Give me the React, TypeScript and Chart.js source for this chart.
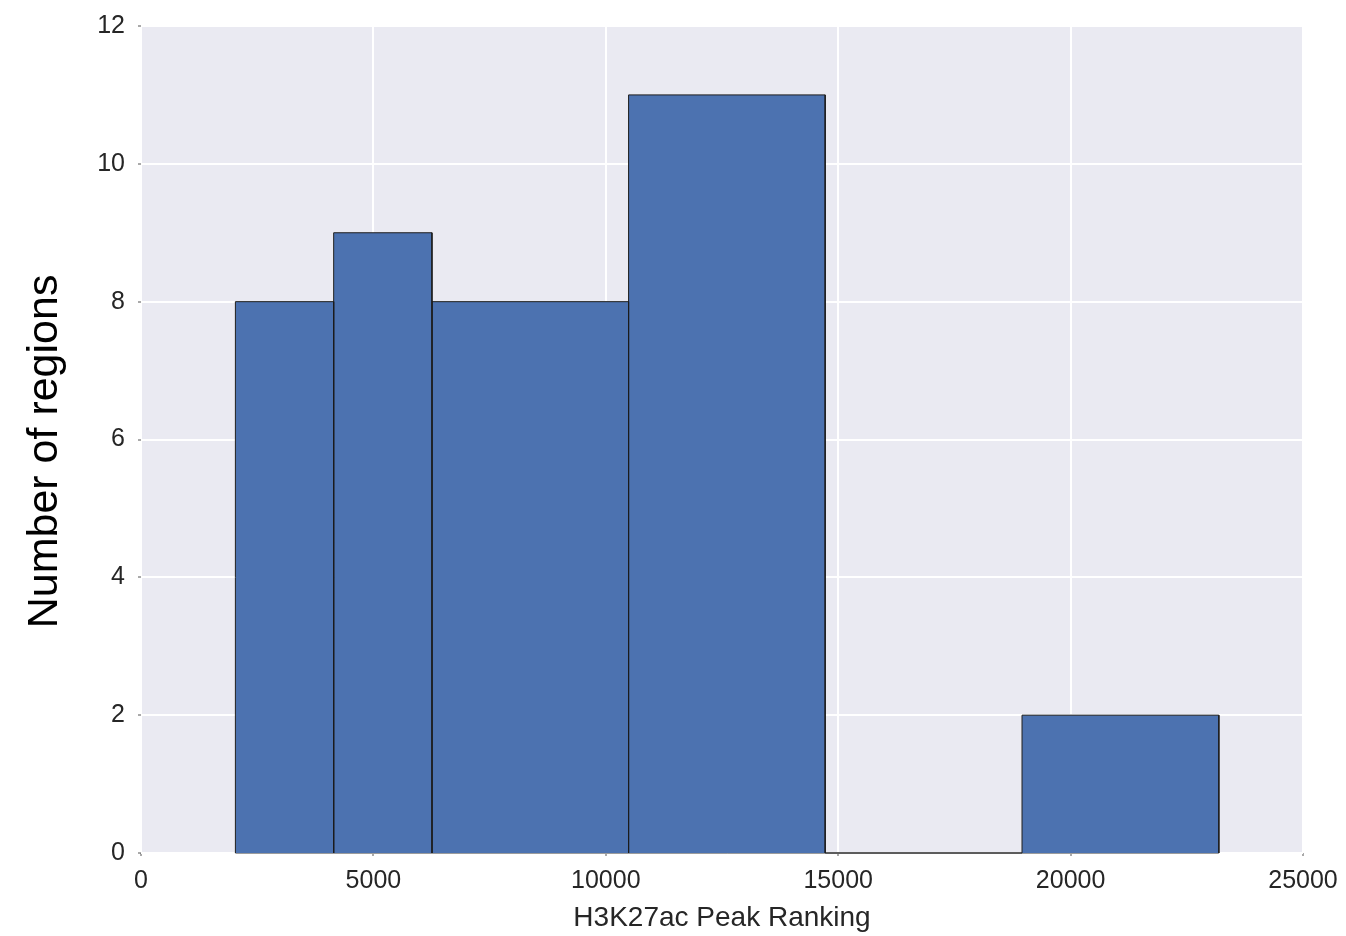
import React, { useEffect, useRef } from "react";
import { Chart, registerables } from "chart.js";

Chart.register(...registerables);

const binEdges = [2031, 4145, 6260, 10490, 14720, 18955, 23190];
const binCounts = [8, 9, 8, 11, 0, 2];
const xTicks = [0, 5000, 10000, 15000, 20000, 25000];
const yTicks = [0, 2, 4, 6, 8, 10, 12];
const xTitle = "H3K27ac Peak Ranking";
const yTitle = "Number of regions";

const FONT = "'Liberation Sans', Arial, sans-serif";

export default function App() {
  const ref = useRef<HTMLCanvasElement | null>(null);

  useEffect(() => {
    document.body.style.margin = "0";
    const canvas = ref.current;
    if (!canvas) return;

    const barSets = binCounts.map((h, i) => {
      const x0 = binEdges[i];
      const x1 = binEdges[i + 1];
      return {
        type: "line" as const,
        data: [
          { x: x0, y: 0 },
          { x: x0, y: h },
          { x: x1, y: h },
          { x: x1, y: 0 },
        ],
        borderColor: "#1c1c1c",
        borderWidth: 1,
        backgroundColor: "#4C72B0",
        fill: "origin",
        pointRadius: 0,
        tension: 0,
        clip: false as any,
      };
    });

    const baseline = {
      type: "line" as const,
      data: [
        { x: binEdges[0], y: 0 },
        { x: binEdges[binEdges.length - 1], y: 0 },
      ],
      borderColor: "#3a3a3a",
      borderWidth: 1,
      fill: false,
      pointRadius: 0,
      clip: false as any,
    };

    const bgPlugin = {
      id: "bg",
      beforeDraw(chart: any) {
        const { ctx, chartArea } = chart;
        ctx.save();
        ctx.fillStyle = "#EAEAF2";
        ctx.fillRect(
          chartArea.left,
          chartArea.top,
          chartArea.right - chartArea.left,
          chartArea.bottom - chartArea.top
        );
        ctx.restore();
      },
    };

    const chart = new Chart(canvas, {
      type: "line",
      data: { datasets: [...barSets, baseline] as any },
      plugins: [bgPlugin],
      options: {
        animation: false,
        responsive: false,
        events: [],
        layout: { padding: { left: 0, top: 26, right: 43, bottom: 0 } },
        plugins: { legend: { display: false }, tooltip: { enabled: false } },
        scales: {
          x: {
            type: "linear",
            min: 0,
            max: 25000,
            afterFit: (s: any) => {
              s.height = 83;
              s.paddingLeft = 0;
              s.paddingRight = 0;
            },
            afterBuildTicks: (s: any) => {
              s.ticks = xTicks.map((v) => ({ value: v }));
            },
            ticks: {
              padding: 10,
              color: "#262626",
              font: { family: FONT, size: 25 },
              maxRotation: 0,
              callback: (v: any) => String(v),
            },
            grid: {
              color: "#ffffff",
              lineWidth: 2,
              drawTicks: true,
              tickLength: 3,
              tickColor: "#555555",
              tickWidth: 1,
            },
            border: { display: false },
            title: {
              display: true,
              text: xTitle,
              color: "#262626",
              font: { family: FONT, size: 28 },
              padding: { top: 0, bottom: 1 },
            },
          },
          y: {
            type: "linear",
            min: 0,
            max: 12,
            afterFit: (s: any) => {
              s.width = 141;
              s.paddingTop = 0;
              s.paddingBottom = 0;
            },
            afterBuildTicks: (s: any) => {
              s.ticks = yTicks.map((v) => ({ value: v }));
            },
            ticks: {
              padding: 13,
              color: "#262626",
              font: { family: FONT, size: 25 },
              callback: (v: any) => String(v),
            },
            grid: {
              color: "#ffffff",
              lineWidth: 2,
              drawTicks: true,
              tickLength: 3,
              tickColor: "#555555",
              tickWidth: 1,
            },
            border: { display: false },
            title: {
              display: true,
              text: yTitle + "  ",
              color: "#000000",
              font: { family: FONT, size: 43 },
              padding: { top: 19, bottom: 0 },
            },
          },
        },
      },
    });

    return () => chart.destroy();
  }, []);

  return <canvas ref={ref} width={1346} height={936} />;
}
